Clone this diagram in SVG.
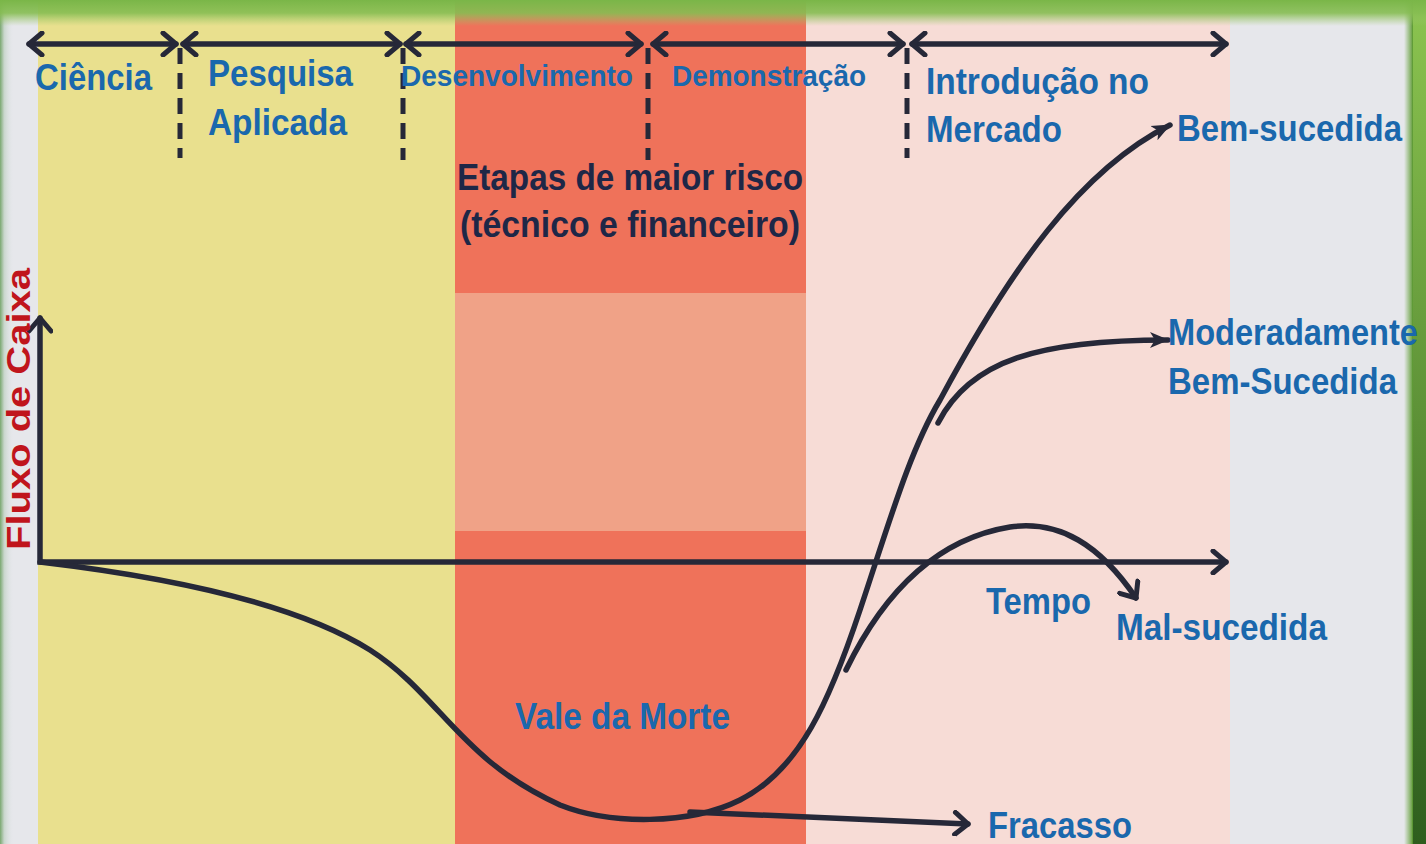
<svg xmlns="http://www.w3.org/2000/svg" width="1426" height="844" viewBox="0 0 1426 844">
<style>
.lbl{font-family:"Liberation Sans",Arial,sans-serif;font-weight:bold;fill:#1a68ad}
.dark{font-family:"Liberation Sans",Arial,sans-serif;font-weight:bold;fill:#1e2747}
.ln{fill:none;stroke:#262838;stroke-width:5.5;stroke-linecap:round}
.dash{fill:none;stroke:#262838;stroke-width:5;stroke-dasharray:16 9}
</style>
<defs>
<marker id="chev" viewBox="0 0 20 26" refX="16" refY="13" markerWidth="20" markerHeight="26" markerUnits="userSpaceOnUse" orient="auto-start-reverse">
<path d="M3,2 L16,13 L3,24" fill="none" stroke="#262838" stroke-width="5" stroke-linecap="round" stroke-linejoin="round"/>
</marker>
<marker id="tri" viewBox="0 0 20 18" refX="18" refY="9" markerWidth="20" markerHeight="18" markerUnits="userSpaceOnUse" orient="auto">
<path d="M0,1 L19,9 L0,17 L5,9 Z" fill="#262838"/>
</marker>
<linearGradient id="gTop" x1="0" y1="0" x2="0" y2="1">
<stop offset="0" stop-color="#7ab648"/>
<stop offset="0.5" stop-color="#86bd52" stop-opacity="0.9"/>
<stop offset="1" stop-color="#9cc86a" stop-opacity="0"/>
</linearGradient>
<linearGradient id="gRight" x1="0" y1="0" x2="1" y2="0">
<stop offset="0" stop-color="#6aa63e" stop-opacity="0"/>
<stop offset="1" stop-color="#5e9a36"/>
</linearGradient>
<linearGradient id="gRightV" x1="0" y1="0" x2="0" y2="1">
<stop offset="0" stop-color="#8cc450"/>
<stop offset="1" stop-color="#2e5e1e"/>
</linearGradient>
<linearGradient id="gLeft" x1="0" y1="0" x2="1" y2="0">
<stop offset="0" stop-color="#7aa870"/>
<stop offset="0.3" stop-color="#c9d6cc"/>
<stop offset="1" stop-color="#e6e7ec" stop-opacity="0"/>
</linearGradient>
</defs>

<g id="background">
<rect x="0" y="0" width="1426" height="844" fill="#e6e7eb"/>
<rect x="38" y="0" width="417" height="844" fill="#e9e08e"/>
<rect x="455" y="0" width="351" height="844" fill="#ef725a"/>
<rect x="455" y="293" width="351" height="238" fill="#f0a287"/>
<rect x="806" y="0" width="424" height="844" fill="#f7dcd6"/>
<rect x="0" y="0" width="14" height="844" fill="url(#gLeft)"/>
<rect x="1412" y="0" width="14" height="844" fill="url(#gRightV)"/>
<rect x="1404" y="0" width="9" height="844" fill="url(#gRight)"/>
<rect x="0" y="0" width="1426" height="26" fill="url(#gTop)"/>
</g>

<g id="connectors">
<line class="ln" x1="29" y1="44" x2="176" y2="44" marker-start="url(#chev)" marker-end="url(#chev)"/>
<line class="ln" x1="183" y1="44" x2="400" y2="44" marker-start="url(#chev)" marker-end="url(#chev)"/>
<line class="ln" x1="406" y1="44" x2="641" y2="44" marker-start="url(#chev)" marker-end="url(#chev)"/>
<line class="ln" x1="653" y1="44" x2="903" y2="44" marker-start="url(#chev)" marker-end="url(#chev)"/>
<line class="ln" x1="912" y1="44" x2="1226" y2="44" marker-start="url(#chev)" marker-end="url(#chev)"/>
<line class="dash" x1="180" y1="48" x2="180" y2="158"/>
<line class="dash" x1="403" y1="48" x2="403" y2="160"/>
<line class="dash" x1="648" y1="48" x2="648" y2="160"/>
<line class="dash" x1="907" y1="48" x2="907" y2="158"/>
<polyline class="ln" points="40,318 40,562 1226,562" marker-start="url(#chev)" marker-end="url(#chev)"/>
<path class="ln" d="M40,562 C150,575 290,600 370,650 C440,695 460,760 560,805 C610,825 690,825 740,800 C800,770 830,700 860,610 C890,520 910,450 940,400 C1010,270 1080,170 1170,125" marker-end="url(#tri)"/>
<path class="ln" d="M938,423 C970,360 1040,340 1168,340" marker-end="url(#tri)"/>
<path class="ln" d="M846,670 C880,600 930,540 1010,527 C1060,520 1100,545 1136,598" marker-end="url(#chev)"/>
<path class="ln" d="M690,812 L968,824" marker-end="url(#chev)"/>
</g>

<g id="labels">
<text class="lbl" x="35" y="90" font-size="37" textLength="117" lengthAdjust="spacingAndGlyphs">Ciência</text>
<text class="lbl" x="208" y="86" font-size="37" textLength="145" lengthAdjust="spacingAndGlyphs">Pesquisa</text>
<text class="lbl" x="208" y="135" font-size="37" textLength="139" lengthAdjust="spacingAndGlyphs">Aplicada</text>
<text class="lbl" x="401" y="86" font-size="29" textLength="232" lengthAdjust="spacingAndGlyphs">Desenvolvimento</text>
<text class="lbl" x="672" y="86" font-size="29" textLength="194" lengthAdjust="spacingAndGlyphs">Demonstração</text>
<text class="lbl" x="926" y="94" font-size="37" textLength="223" lengthAdjust="spacingAndGlyphs">Introdução no</text>
<text class="lbl" x="926" y="142" font-size="37" textLength="136" lengthAdjust="spacingAndGlyphs">Mercado</text>
<text class="lbl" x="1177" y="141" font-size="37" textLength="225" lengthAdjust="spacingAndGlyphs">Bem-sucedida</text>
<text class="dark" x="457" y="190" font-size="36" textLength="346" lengthAdjust="spacingAndGlyphs">Etapas de maior risco</text>
<text class="dark" x="460" y="237" font-size="36" textLength="340" lengthAdjust="spacingAndGlyphs">(técnico e financeiro)</text>
<text x="30" y="550" transform="rotate(-90 30 550)" font-family="Liberation Sans,Arial,sans-serif" font-weight="bold" font-size="33" fill="#c0151c" textLength="282" lengthAdjust="spacingAndGlyphs">Fluxo de Caixa</text>
<text class="lbl" x="1168" y="345" font-size="37" textLength="250" lengthAdjust="spacingAndGlyphs">Moderadamente</text>
<text class="lbl" x="1168" y="394" font-size="37" textLength="229" lengthAdjust="spacingAndGlyphs">Bem-Sucedida</text>
<text class="lbl" x="986" y="614" font-size="36" textLength="105" lengthAdjust="spacingAndGlyphs">Tempo</text>
<text class="lbl" x="1116" y="640" font-size="37" textLength="211" lengthAdjust="spacingAndGlyphs">Mal-sucedida</text>
<text class="lbl" x="515" y="729" font-size="37" textLength="215" lengthAdjust="spacingAndGlyphs">Vale da Morte</text>
<text class="lbl" x="988" y="838" font-size="37" textLength="144" lengthAdjust="spacingAndGlyphs">Fracasso</text>
</g>
</svg>
